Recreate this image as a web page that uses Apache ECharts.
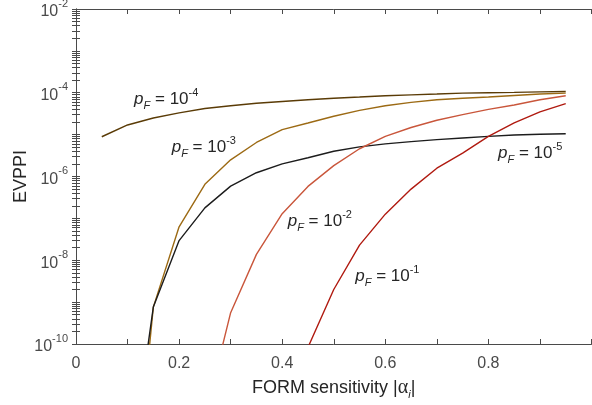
<!DOCTYPE html>
<html>
<head>
<meta charset="utf-8">
<script src="https://cdn.jsdelivr.net/npm/echarts@6/dist/echarts.min.js"></script>
<style>
html,body{margin:0;padding:0;background:#fff;}
#chart{width:592px;height:405px;}
</style>
</head>
<body>
<div id="chart"></div>
<script>
// FORM sensitivity |alpha_i| grid
const alpha = [0.05,0.10,0.15,0.20,0.25,0.30,0.35,0.40,0.45,0.50,0.55,0.60,0.65,0.70,0.75,0.80,0.85,0.90,0.95];

// EVPPI values per failure probability pF
const evppi_pF1e4 = [8.9e-6,1.7e-5,2.5e-5,3.3e-5,4.2e-5,4.9e-5,5.6e-5,6.2e-5,6.8e-5,7.4e-5,7.9e-5,8.5e-5,8.9e-5,9.3e-5,9.8e-5,1.0e-4,1.02e-4,1.05e-4,1.07e-4];
const evppi_pF1e3 = [null,4e-16,7.6e-10,6.3e-8,6.5e-7,2.5e-6,6.5e-6,1.32e-5,1.9e-5,2.75e-5,3.8e-5,4.9e-5,5.9e-5,6.8e-5,7.4e-5,7.9e-5,8.6e-5,9.3e-5,9.8e-5];
const evppi_pF1e5 = [null,3e-14,7.6e-10,2.95e-8,1.78e-7,5.9e-7,1.23e-6,2.0e-6,2.8e-6,4.0e-6,5.1e-6,6.0e-6,6.8e-6,7.6e-6,8.3e-6,9.1e-6,9.8e-6,1.02e-5,1.05e-5];
const evppi_pF1e2 = [null,null,null,null,1.8e-12,5.6e-10,1.38e-8,1.29e-7,5.8e-7,1.82e-6,4.6e-6,9.1e-6,1.48e-5,2.2e-5,3.0e-5,4.0e-5,5.1e-5,6.8e-5,8.5e-5];
const evppi_pF1e1 = [null,null,null,null,null,null,null,null,8.3e-11,2.0e-9,2.3e-8,1.26e-7,5.0e-7,1.58e-6,3.6e-6,9.1e-6,1.9e-5,3.5e-5,5.5e-5];

// label anchor positions (data coordinates)
const labelExp = ['-4','-3','-5','-2','-1'];
const labelPos = [[0.175,6.8e-5],[0.248,4.9e-6],[0.881,3.5e-6],[0.473,8.5e-8],[0.604,4.2e-9]];

// axis ticks
const xTickValues = [0,0.1,0.2,0.3,0.4,0.5,0.6,0.7,0.8,0.9,1.0];
const xLabelValues = [0,0.2,0.4,0.6,0.8];
const yLabelValues = [1e-10,1e-8,1e-6,1e-4,1e-2];
const yTickValues = [];
for (let n = -10; n < -2; n++) for (let k = 1; k <= 9; k++) yTickValues.push(parseFloat((k * Math.pow(10, n)).toPrecision(3)));
yTickValues.push(1e-2);

const seriesList = [evppi_pF1e4, evppi_pF1e3, evppi_pF1e5, evppi_pF1e2, evppi_pF1e1];
const colors = ['#5a3b06','#9c6a14','#1c1c1c','#c9563b','#b01a10'];

const FONT = '"Liberation Sans", Arial, Helvetica, sans-serif';
const axisColor = '#4a4a4a';

const labelRich = {
  p: {fontFamily: FONT, fontSize: 17, fontStyle: 'italic', color: '#262626', lineHeight: 24, verticalAlign: 'middle'},
  f: {fontFamily: FONT, fontSize: 11, fontStyle: 'italic', color: '#262626', lineHeight: 10, verticalAlign: 'bottom'},
  n: {fontFamily: FONT, fontSize: 17, color: '#262626', lineHeight: 24, verticalAlign: 'middle'},
  e: {fontFamily: FONT, fontSize: 11, color: '#262626', lineHeight: 15, verticalAlign: 'top'}
};

const series = seriesList.map((vals, i) => ({
  type: 'line',
  data: alpha.map((a, j) => [a, vals[j]]),
  showSymbol: false,
  symbol: 'none',
  clip: true,
  connectNulls: false,
  lineStyle: {color: colors[i], width: 1.4},
  itemStyle: {color: colors[i]},
  animation: false,
  z: 3,
  markPoint: {
    symbol: 'circle',
    symbolSize: 0,
    animation: false,
    data: [{
      coord: labelPos[i],
      label: {
        show: true,
        position: 'inside',
        formatter: '{p|p}{f|F}{n| = 10}{e|' + labelExp[i] + '}',
        rich: labelRich
      }
    }]
  }
}));

function yFmt(v) {
  const e = Math.round(Math.log10(v));
  return '{b|10}{s|' + e + '}';
}
const yRich = {
  b: {fontFamily: FONT, fontSize: 16, color: axisColor, lineHeight: 22, verticalAlign: 'bottom'},
  s: {fontFamily: FONT, fontSize: 11, color: axisColor, lineHeight: 22, verticalAlign: 'top'}
};

const commonAxisLine = {show: true, lineStyle: {color: axisColor, width: 1}};

const chart = echarts.init(document.getElementById('chart'), null, {renderer: 'canvas'});
chart.setOption({
  animation: false,
  backgroundColor: '#ffffff',
  grid: {left: 76, right: 0.5, top: 9, bottom: 61, containLabel: false, outerBoundsMode: 'none'},
  xAxis: [{
    type: 'value', min: 0, max: 1, position: 'bottom',
    axisLine: commonAxisLine,
    axisTick: {show: true, inside: true, length: 5, customValues: xTickValues, lineStyle: {color: axisColor}},
    axisLabel: {show: true, customValues: xLabelValues, margin: 12, fontFamily: FONT, fontSize: 16, color: axisColor,
      formatter: v => (v === 0 ? '0' : String(Math.round(v * 10) / 10))},
    splitLine: {show: false},
    name: '{t|FORM sensitivity |}{a|α}{i|i}{t||}',
    nameLocation: 'middle',
    nameGap: 32,
    nameTextStyle: {
      rich: {
        t: {fontFamily: FONT, fontSize: 18, color: '#262626', lineHeight: 24, verticalAlign: 'middle'},
        a: {fontFamily: '"Liberation Serif", "DejaVu Serif", serif', fontSize: 20, color: '#262626', lineHeight: 24, verticalAlign: 'middle'},
        i: {fontFamily: FONT, fontSize: 11, fontStyle: 'italic', color: '#262626', lineHeight: 10, verticalAlign: 'bottom'}
      }
    }
  }, {
    type: 'value', min: 0, max: 1, position: 'top',
    axisLine: commonAxisLine,
    axisTick: {show: true, inside: true, length: 5, customValues: xTickValues, lineStyle: {color: axisColor}},
    axisLabel: {show: false},
    splitLine: {show: false}
  }],
  yAxis: [{
    type: 'log', logBase: 10, min: 1e-10, max: 1e-2, position: 'left',
    axisLine: commonAxisLine,
    axisTick: {show: true, inside: true, length: 4, customValues: yTickValues, lineStyle: {color: axisColor}},
    axisLabel: {show: true, customValues: yLabelValues, margin: 8, formatter: yFmt, rich: yRich},
    splitLine: {show: false},
    name: 'EVPPI',
    nameLocation: 'middle',
    nameGap: 46,
    nameMoveOverlap: false,
    nameTextStyle: {fontFamily: FONT, fontSize: 18, color: '#262626'}
  }, {
    type: 'log', logBase: 10, min: 1e-10, max: 1e-2, position: 'right',
    axisLine: commonAxisLine,
    axisTick: {show: true, inside: true, length: 4, customValues: yTickValues, lineStyle: {color: axisColor}},
    axisLabel: {show: false},
    splitLine: {show: false}
  }],
  series: series
});
</script>
</body>
</html>
